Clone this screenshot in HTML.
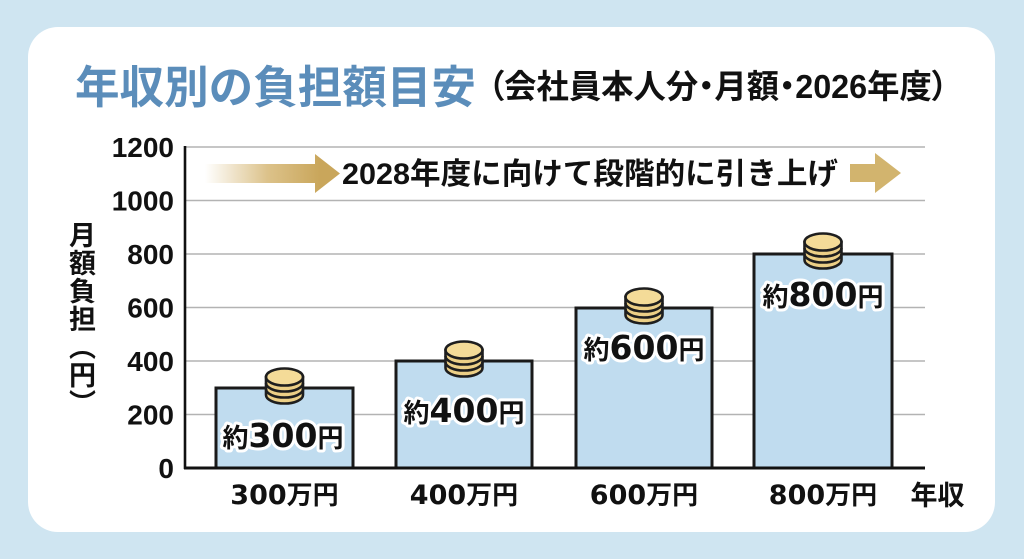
<!DOCTYPE html>
<html><head><meta charset="utf-8">
<style>
html,body{margin:0;padding:0;}
body{width:1024px;height:559px;background:#cfe5f1;position:relative;overflow:hidden;font-family:"Liberation Sans","Noto Sans CJK JP",sans-serif;}
svg{position:absolute;left:0;top:0;}
.ytitle{position:absolute;left:68px;top:221px;writing-mode:vertical-rl;font-size:27px;line-height:28px;font-weight:bold;color:#111;font-family:"Noto Sans CJK JP",sans-serif;letter-spacing:1px;}
</style></head>
<body>
<svg width="1024" height="559" viewBox="0 0 1024 559" xmlns="http://www.w3.org/2000/svg">
<defs>
<linearGradient id="ag" x1="205" y1="0" x2="320" y2="0" gradientUnits="userSpaceOnUse">
<stop offset="0" stop-color="#d0ad62" stop-opacity="0"/>
<stop offset="0.55" stop-color="#d0ad62" stop-opacity="0.75"/>
<stop offset="1" stop-color="#c9a65b" stop-opacity="1"/>
</linearGradient>
<g id="coin">
<path d="M1.5,10 L1.5,28 A18.5,8.5 0 0 0 38.5,28 L38.5,10 Z" fill="#eccf86" stroke="#1e1e1e" stroke-width="2.6"/>
<path d="M1.5,16 A18.5,8.5 0 0 0 38.5,16" fill="none" stroke="#1e1e1e" stroke-width="2.6"/>
<path d="M1.5,22 A18.5,8.5 0 0 0 38.5,22" fill="none" stroke="#1e1e1e" stroke-width="2.6"/>
<ellipse cx="20" cy="10" rx="18.5" ry="8.5" fill="#f4db98" stroke="#1e1e1e" stroke-width="2.6"/>
</g>
</defs>

<rect x="28" y="27" width="967" height="505" rx="30" ry="30" fill="#ffffff"/>

<!-- title -->
<text x="75" y="103" font-size="45" font-weight="bold" fill="#5b8dba" textLength="401" lengthAdjust="spacingAndGlyphs" font-family="Liberation Sans, Noto Sans CJK JP, sans-serif">年収別の負担額目安</text>
<text x="488" y="98" font-size="33" font-weight="bold" fill="#111" textLength="460" lengthAdjust="spacingAndGlyphs" style="font-feature-settings:'palt'" font-family="Liberation Sans, Noto Sans CJK JP, sans-serif">（会社員本人分・月額・2026年度）</text>

<!-- gridlines -->
<g stroke="#b3b3b3" stroke-width="1.6">
<line x1="185" y1="147" x2="925" y2="147"/>
<line x1="185" y1="200.5" x2="925" y2="200.5"/>
<line x1="185" y1="254" x2="925" y2="254"/>
<line x1="185" y1="307.5" x2="925" y2="307.5"/>
<line x1="185" y1="361" x2="925" y2="361"/>
<line x1="185" y1="414.5" x2="925" y2="414.5"/>
</g>

<!-- banner arrows -->
<polygon points="205,164 315,164 315,154 340,173.5 315,193 315,183 205,183" fill="url(#ag)"/>
<polygon points="850,164 875,164 875,153 901,173 875,193 875,182 850,182" fill="#d2b46e"/>
<text x="342" y="184" font-size="30" font-weight="bold" fill="#111" textLength="496" lengthAdjust="spacingAndGlyphs" font-family="Liberation Sans, Noto Sans CJK JP, sans-serif">2028年度に向けて段階的に引き上げ</text>

<!-- y tick labels -->
<g font-size="28" font-weight="bold" fill="#111" text-anchor="end" font-family="Liberation Sans, sans-serif">
<text x="174" y="157">1200</text>
<text x="174" y="210.5">1000</text>
<text x="174" y="264">800</text>
<text x="174" y="317.5">600</text>
<text x="174" y="371">400</text>
<text x="174" y="424.5">200</text>
<text x="174" y="478">0</text>
</g>

<!-- bars -->
<g fill="#c0dcef" stroke="#1a1a1a" stroke-width="3">
<rect x="216" y="388" width="137" height="80"/>
<rect x="396" y="361" width="136" height="107"/>
<rect x="576" y="308" width="136" height="160"/>
<rect x="754" y="254" width="138" height="214"/>
</g>

<!-- axes -->
<line x1="185" y1="146" x2="185" y2="469" stroke="#111" stroke-width="2.6"/>
<line x1="184" y1="468" x2="925" y2="468" stroke="#111" stroke-width="3"/>

<!-- coins -->
<use href="#coin" x="264.5" y="367"/>
<use href="#coin" x="444" y="340"/>
<use href="#coin" x="624" y="287"/>
<use href="#coin" x="803" y="232"/>

<!-- bar labels -->
<g font-weight="bold" fill="#111" stroke="#ffffff" stroke-width="6" stroke-linejoin="round" style="paint-order:stroke fill" text-anchor="middle">
<text x="283" y="447"><tspan font-size="26" font-family="Noto Sans CJK JP, sans-serif">約</tspan><tspan font-size="33" font-family="DejaVu Sans, sans-serif">300</tspan><tspan font-size="26" font-family="Noto Sans CJK JP, sans-serif">円</tspan></text>
<text x="464" y="422"><tspan font-size="26" font-family="Noto Sans CJK JP, sans-serif">約</tspan><tspan font-size="33" font-family="DejaVu Sans, sans-serif">400</tspan><tspan font-size="26" font-family="Noto Sans CJK JP, sans-serif">円</tspan></text>
<text x="644" y="359"><tspan font-size="26" font-family="Noto Sans CJK JP, sans-serif">約</tspan><tspan font-size="33" font-family="DejaVu Sans, sans-serif">600</tspan><tspan font-size="26" font-family="Noto Sans CJK JP, sans-serif">円</tspan></text>
<text x="823" y="306"><tspan font-size="26" font-family="Noto Sans CJK JP, sans-serif">約</tspan><tspan font-size="33" font-family="DejaVu Sans, sans-serif">800</tspan><tspan font-size="26" font-family="Noto Sans CJK JP, sans-serif">円</tspan></text>
</g>

<!-- x labels -->
<g font-weight="bold" fill="#111" text-anchor="middle">
<text x="284.5" y="504"><tspan font-size="27" font-family="DejaVu Sans, sans-serif">300</tspan><tspan font-size="26" font-family="Noto Sans CJK JP, sans-serif">万円</tspan></text>
<text x="464" y="504"><tspan font-size="27" font-family="DejaVu Sans, sans-serif">400</tspan><tspan font-size="26" font-family="Noto Sans CJK JP, sans-serif">万円</tspan></text>
<text x="644" y="504"><tspan font-size="27" font-family="DejaVu Sans, sans-serif">600</tspan><tspan font-size="26" font-family="Noto Sans CJK JP, sans-serif">万円</tspan></text>
<text x="823" y="504"><tspan font-size="27" font-family="DejaVu Sans, sans-serif">800</tspan><tspan font-size="26" font-family="Noto Sans CJK JP, sans-serif">万円</tspan></text>
<text x="937.5" y="505" font-size="27" font-family="Noto Sans CJK JP, sans-serif">年収</text>
</g>
</svg>
<div class="ytitle">月額負担（円）</div>
</body></html>
